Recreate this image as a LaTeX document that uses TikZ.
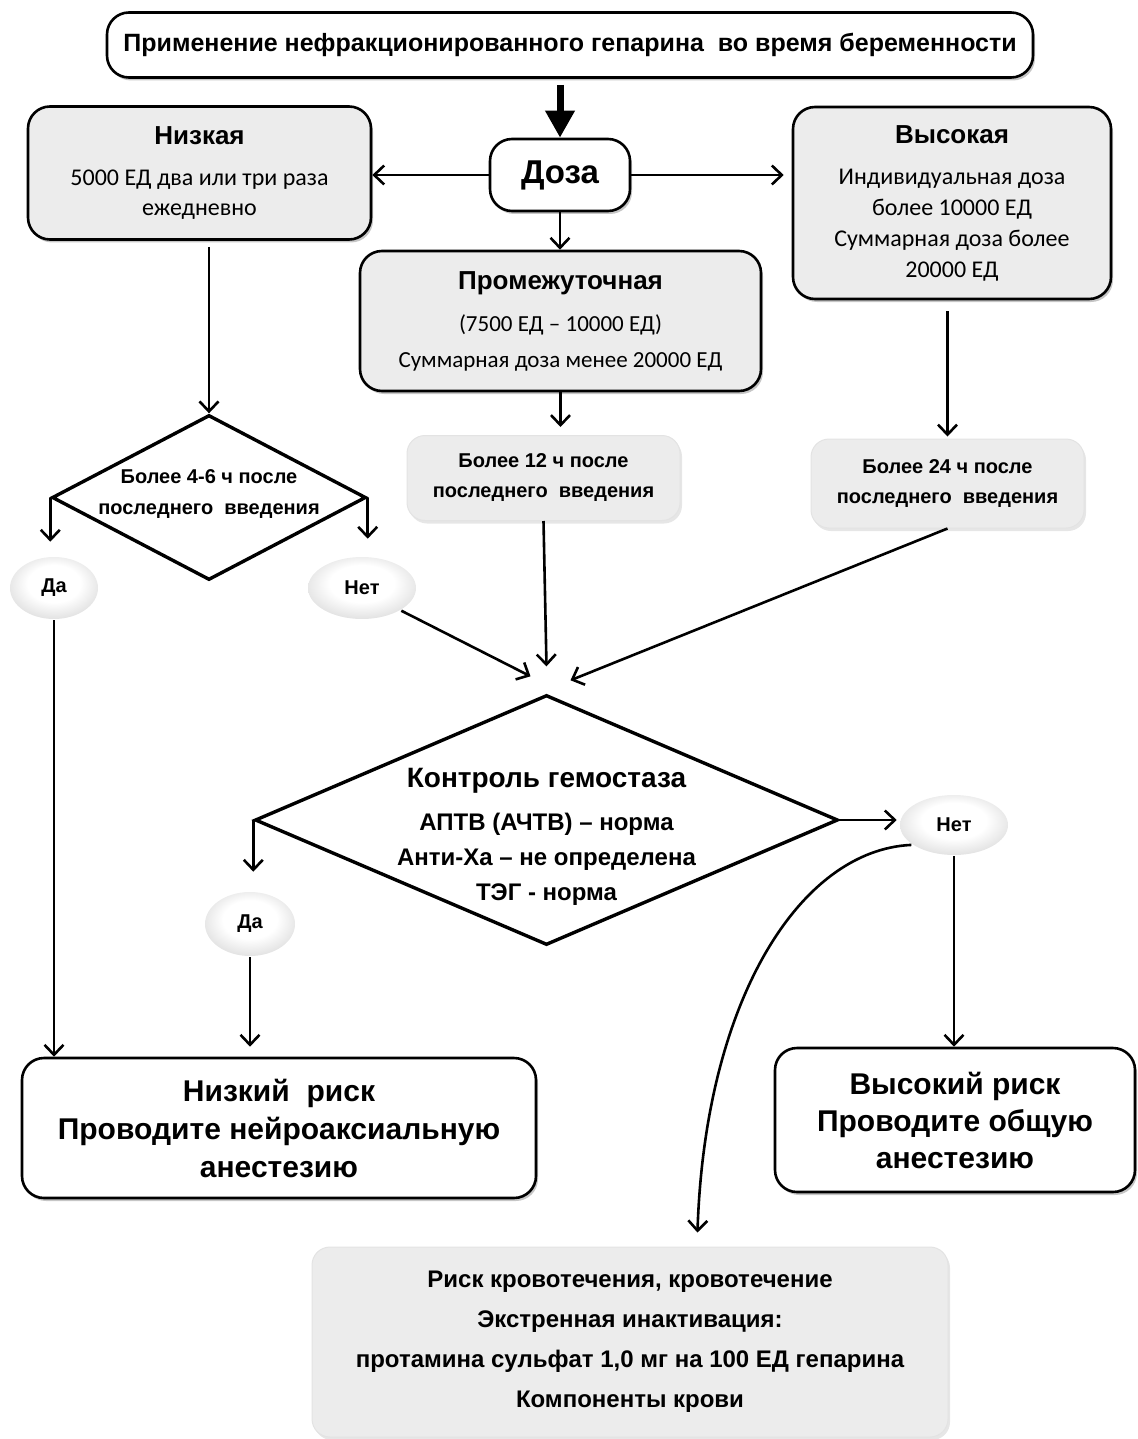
\documentclass[tikz,border=0pt]{standalone}
\usepackage{fontspec}
\setmainfont{Liberation Sans}
\newfontfamily\calibri{Carlito}
\usetikzlibrary{shapes.geometric,arrows.meta,shadows}
\pgfdeclareradialshading{sphere}{\pgfpoint{0bp}{5bp}}{color(0bp)=(white); color(15bp)=(white); color(27bp)=(gray!22); color(35bp)=(gray!45); color(50bp)=(gray!45)}

\begin{document}
\begin{tikzpicture}[x=1pt,y=-1pt,line width=2.6pt,
	arr/.style={-{Straight Barb[length=10pt,width=19pt]}},
	whitebox/.style={draw,rounded corners=22pt,fill=white,inner sep=0pt,align=center,
		drop shadow={shadow xshift=2pt,shadow yshift=-3pt,opacity=0.45}},
	graybox/.style={whitebox,fill=gray!15},
	softbox/.style={rounded corners=18pt,fill=gray!15,draw=gray!22,line width=1pt,inner sep=0pt,align=center,
		drop shadow={shadow xshift=2pt,shadow yshift=-3pt,opacity=0.2}},
	answer/.style={ellipse,shading=sphere,inner sep=0pt,
		font=\fontsize{20}{24}\selectfont\bfseries},
	decision/.style={diamond,draw,line width=3.4pt,inner sep=0pt}]
	\useasboundingbox (0,0) rectangle (1137,1439);

	% top
	\node (title) [whitebox,minimum width=926pt,minimum height=65pt,font=\fontsize{25}{30}\selectfont\bfseries]
		at (570,45) {Применение нефракционированного гепарина\ \ во время беременности};
	\node (doza) [whitebox,minimum width=140pt,minimum height=72pt,font=\fontsize{33}{40}\selectfont\bfseries]
		at (560,175) {Доза};

	% doses
	\node (low) [graybox,minimum width=343pt,minimum height=133pt,font=\fontsize{24}{30}\selectfont\calibri]
		at (199.5,173) {{\fontsize{26}{30}\selectfont\rmfamily\bfseries Низкая}\\[11pt]5000 ЕД два или три раза\\ежедневно};
	\node (mid) [graybox,minimum width=401pt,minimum height=140pt,font=\fontsize{23}{36}\selectfont\calibri]
		at (560.5,321) {{\fontsize{26}{36}\selectfont\rmfamily\bfseries Промежуточная}\\[6pt](7500 ЕД – 10000 ЕД)\\Суммарная доза менее 20000 ЕД};
	\node (high) [graybox,minimum width=318pt,minimum height=192pt,font=\fontsize{24}{31}\selectfont\calibri]
		at (952,203) {{\fontsize{26}{31}\selectfont\rmfamily\bfseries Высокая}\\[10pt]Индивидуальная доза\\более 10000 ЕД\\Суммарная доза более\\20000 ЕД};

	% time after last dose
	\node (b12) [softbox,minimum width=273pt,minimum height=85pt,font=\fontsize{20}{30}\selectfont\bfseries]
		at (543.5,478) {Более 12 ч после\\последнего\ \ введения};
	\node (b24) [softbox,minimum width=273pt,minimum height=89pt,font=\fontsize{20}{30}\selectfont\bfseries]
		at (947.5,483.5) {Более 24 ч после\\последнего\ \ введения};

	% first decision
	\node (d1) [decision,minimum width=314pt,minimum height=165pt] at (209,497.5) {};
	\node (d1t) [align=center,font=\fontsize{20}{31}\selectfont\bfseries] at ([yshift=3pt]d1.center)
		{Более 4-6 ч после\\последнего\ \ введения};
	\node (yes1) [answer,minimum width=88pt,minimum height=62pt] at (54,588) {Да};
	\node (no1) [answer,minimum width=108pt,minimum height=62pt] at (362,588) {Нет};

	% hemostasis control
	\node (d2) [decision,minimum width=583pt,minimum height=250pt] at (546.5,820) {};
	\node (d2t) [align=center,font=\fontsize{24}{35}\selectfont\bfseries] at ([yshift=-17pt]d2.center)
		{{\fontsize{28}{35}\selectfont Контроль гемостаза}\\[8pt]АПТВ (АЧТВ) – норма\\Анти-Ха – не определена\\ТЭГ - норма};
	\node (yes2) [answer,minimum width=90pt,minimum height=64pt] at (250,924) {Да};
	\node (no2) [answer,minimum width=108pt,minimum height=60pt] at (954,825) {Нет};

	% outcomes
	\node (lowrisk) [whitebox,minimum width=514pt,minimum height=140pt,font=\fontsize{30}{38}\selectfont\bfseries]
		at (279,1128) {Низкий\ \ риск\\Проводите нейроаксиальную\\анестезию};
	\node (highrisk) [whitebox,minimum width=360pt,minimum height=144pt,font=\fontsize{30}{37}\selectfont\bfseries]
		at (955,1120) {Высокий риск\\Проводите общую\\анестезию};
	\node (bleed) [softbox,minimum width=636pt,minimum height=190pt,font=\fontsize{24}{40}\selectfont\bfseries]
		at (630,1342) {Риск кровотечения, кровотечение\\Экстренная инактивация:\\протамина сульфат 1,0 мг на 100 ЕД гепарина\\Компоненты крови};

	% connectors
	\draw[-{Triangle[length=27pt,width=28pt]},line width=7pt,shorten <=6pt] (title.south -| doza.north) -- (doza.north);
	\draw[arr] (doza.west) -- (low.east |- doza.west);
	\draw[arr,shorten >=8pt] (doza.east) -- (high.west |- doza.east);
	\draw[arr] (doza.south) -- (doza.south |- mid.north);
	\draw[arr,shorten <=6pt] (d1.north |- low.south) -- (d1.north);
	\draw[arr,shorten >=8pt] (mid.south) -- (mid.south |- b12.north);
	\draw[arr,shorten <=11pt,shorten >=2pt] (b24.north |- high.south) -- (b24.north);
	\draw[arr,shorten >=14pt] (d1.west) -- (d1.west |- yes1.north);
	\draw[arr,shorten >=17pt] (d1.east) -- (d1.east |- no1.north);
	\draw[arr] (yes1.south) -- (yes1.south |- lowrisk.north);
	\draw[arr] (no1.-30) -- ([shift={(-16pt,17pt)}]d2.north);
	\draw[arr] (b12.south) -- ([yshift=27pt]d2.north);
	\draw[arr] (b24.south) -- ([shift={(24pt,13pt)}]d2.north);
	\draw[arr,shorten >=19pt] (d2.west) -- (d2.west |- yes2.north);
	\draw[arr,shorten >=2pt] (d2.east) -- (d2.east -| no2.west);
	\draw[arr,shorten >=10pt] (yes2.south) -- (yes2.south |- lowrisk.north);
	\draw[arr] (no2.south) -- (no2.south |- highrisk.north);
	\draw[arr,shorten >=14pt] (no2.205) .. controls (800,850) and (705,1000) .. ([xshift=67pt]bleed.north);
\end{tikzpicture}
\end{document}
